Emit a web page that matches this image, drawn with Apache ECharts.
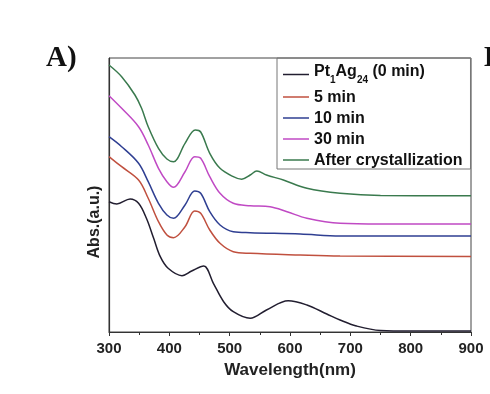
<!DOCTYPE html>
<html>
<head>
<meta charset="utf-8">
<script src="https://cdn.jsdelivr.net/npm/echarts@6/dist/echarts.min.js"></script>
<style>html,body{margin:0;padding:0;background:#fff}#c{width:490px;height:394px}</style>
</head>
<body>
<div id="c"></div>
<script>
// Wavelength (nm) / absorbance (a.u., offset curves) pairs
const seriesNames = ['Pt1Ag24 (0 min)', '5 min', '10 min', '30 min', 'After crystallization'];
const xTicks = [300, 400, 500, 600, 700, 800, 900];

const wl0 = [300,313,335,349,362,374,385,398,421,437,457,473,490,506,534,561,597,628,661,683,710,750,800,900];
const abs0 = [1.303,1.28,1.33,1.287,1.137,0.937,0.753,0.637,0.563,0.61,0.66,0.487,0.303,0.203,0.137,0.22,0.313,0.27,0.18,0.12,0.06,0.015,0.01,0.01];

const wl5 = [300,321,349,365,382,396,407,426,442,452,467,484,506,534,617,683,900];
const abs5 = [1.753,1.653,1.52,1.337,1.103,0.97,0.943,1.053,1.21,1.187,1.02,0.887,0.803,0.787,0.77,0.76,0.755];

const wl10 = [300,321,349,365,382,396,407,426,442,452,467,484,506,534,617,683,900];
const abs10 = [1.953,1.853,1.687,1.503,1.287,1.17,1.137,1.27,1.41,1.387,1.203,1.07,1.003,0.993,0.98,0.96,0.96];

const wl30 = [300,321,349,365,382,396,407,426,442,452,467,484,506,534,567,595,628,683,750,900];
const abs30 = [2.363,2.237,2.053,1.87,1.637,1.503,1.447,1.603,1.753,1.737,1.553,1.387,1.287,1.263,1.253,1.203,1.137,1.087,1.08,1.08];

const wlC = [300,321,343,354,365,382,396,407,426,443,452,467,484,506,520,534,545,561,589,628,683,750,900];
const absC = [2.67,2.553,2.37,2.237,2.053,1.837,1.73,1.703,1.887,2.02,2.0,1.787,1.637,1.553,1.527,1.57,1.61,1.57,1.52,1.437,1.387,1.365,1.363];

const colors = ['#221e30', '#c0503f', '#2f3f92', '#c04ac4', '#3a7a4e'];

function pairs(xs, ys) { return xs.map((x, i) => [x, ys[i]]); }
const allData = [pairs(wl0, abs0), pairs(wl5, abs5), pairs(wl10, abs10), pairs(wl30, abs30), pairs(wlC, absC)];

const chart = echarts.init(document.getElementById('c'), null, { renderer: 'canvas' });
const font = '"Liberation Sans", Arial, sans-serif';

chart.setOption({
  backgroundColor: '#fff',
  animation: false,
  grid: { left: 109, right: 19, top: 58, bottom: 62, show: true, borderColor: '#444', borderWidth: 1 },
  xAxis: {
    type: 'value', min: 300, max: 900, interval: 100,
    axisLine: { show: true, lineStyle: { color: '#333', width: 1.2 } },
    axisTick: { show: true, inside: false, length: 4, lineStyle: { color: '#333' } },
    minorTick: { show: true, splitNumber: 2, length: 3, lineStyle: { color: '#333' } },
    splitLine: { show: false },
    axisLabel: { color: '#222', fontFamily: font, fontWeight: 'bold', fontSize: 15, margin: 9,
      formatter: v => xTicks.includes(v) ? String(v) : '' },
    name: 'Wavelength(nm)', nameLocation: 'middle', nameGap: 30,
    nameTextStyle: { color: '#222', fontFamily: font, fontWeight: 'bold', fontSize: 17 }
  },
  yAxis: {
    type: 'value', min: 0, max: 2.74,
    axisLine: { show: true, lineStyle: { color: '#333', width: 1.2 } },
    axisTick: { show: false }, axisLabel: { show: false }, splitLine: { show: false }
  },
  legend: {
    orient: 'vertical', left: 277, top: 58,
    data: seriesNames,
    icon: 'rect',
    itemWidth: 26, itemHeight: 1.5, itemGap: 5,
    padding: [6, 8, 0, 6],
    borderColor: '#777', borderWidth: 1,
    textStyle: {
      color: '#111', fontFamily: font, fontWeight: 'bold', fontSize: 16, lineHeight: 14,
      rich: {
        n: { fontFamily: font, fontWeight: 'bold', fontSize: 16, color: '#111', lineHeight: 14, verticalAlign: 'top' },
        t: { fontFamily: font, fontWeight: 'bold', fontSize: 16, color: '#111', lineHeight: 21, verticalAlign: 'top' },
        s: { fontFamily: font, fontWeight: 'bold', fontSize: 10, color: '#111', lineHeight: 10, verticalAlign: 'bottom' }
      }
    },
    formatter: name => name === seriesNames[0]
      ? '{n|Pt}{s|1}{n|Ag}{s|24}{n| (0 min)}{t|}'
      : '{n|' + name + '}'
  },
  graphic: [
    { type: 'text', left: 46, top: 44, style: { text: 'A)', font: 'bold 29px "Liberation Serif", "Times New Roman", serif', fill: '#111' } },
    { type: 'text', left: 484, top: 44, style: { text: 'B)', font: 'bold 29px "Liberation Serif", "Times New Roman", serif', fill: '#111' } },
    { type: 'text', x: 95, y: 222, rotation: Math.PI / 2,
      style: { text: 'Abs.(a.u.)', font: 'bold 16px "Liberation Sans", Arial, sans-serif', fill: '#222', align: 'center', verticalAlign: 'middle' } }
  ],
  series: seriesNames.map((n, i) => ({
    name: n, type: 'line', data: allData[i], smooth: 0.35, symbol: 'none',
    lineStyle: { color: colors[i], width: 1.5 }, itemStyle: { color: colors[i] }
  }))
});
</script>
</body>
</html>
